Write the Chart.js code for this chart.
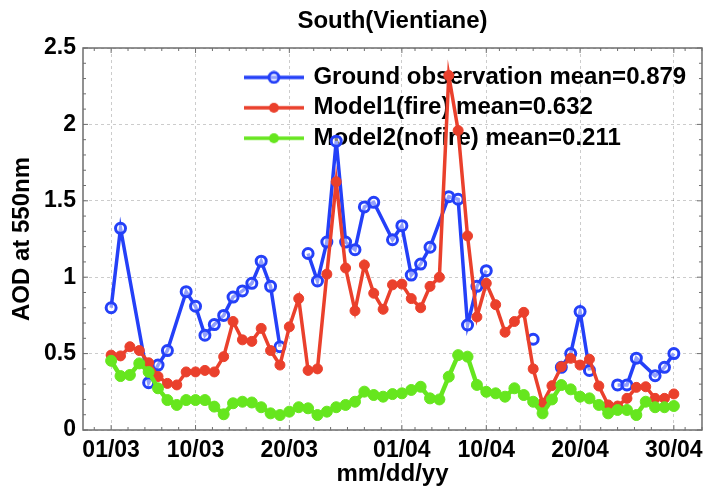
<!DOCTYPE html>
<html><head><meta charset="utf-8">
<script src="https://cdn.jsdelivr.net/npm/chart.js@4.4.0/dist/chart.umd.min.js"></script>
<style>html,body{margin:0;padding:0;background:#fff;} canvas{display:block;}</style>
</head><body>
<canvas id="c" width="710" height="490"></canvas>
<script>
// ---- data ----
const days = [0,1,2,3,4,5,6,7,8,9,10,11,12,13,14,15,16,17,18,19,20,21,22,23,24,25,26,27,28,29,30,
  31,32,33,34,35,36,37,38,39,40,41,42,43,44,45,46,47,48,49,50,51,52,53,54,55,56,57,58,59,60];
const model1Values = [0.49,0.485,0.545,0.52,0.44,0.35,0.305,0.295,0.38,0.38,
  0.39,0.38,0.48,0.71,0.59,0.58,0.665,0.52,0.425,0.675,
  0.86,0.39,0.40,1.02,1.625,1.06,0.78,1.08,0.895,0.79,
  0.95,0.955,0.86,0.80,0.94,1.00,2.32,1.96,1.27,0.74,
  0.96,0.82,0.64,0.71,0.77,0.40,0.175,0.29,0.414,0.469,
  0.425,0.463,0.288,0.164,0.157,0.207,0.279,0.283,0.207,0.207,0.236];
const model2Values = [0.453,0.353,0.36,0.436,0.38,0.273,0.196,0.164,0.196,0.196,
  0.196,0.153,0.103,0.175,0.185,0.18,0.149,0.109,0.098,0.12,
  0.149,0.142,0.098,0.12,0.149,0.164,0.185,0.251,0.229,0.218,
  0.235,0.24,0.262,0.283,0.207,0.2,0.349,0.49,0.48,0.295,
  0.25,0.24,0.218,0.273,0.229,0.185,0.109,0.2,0.294,0.266,
  0.218,0.207,0.164,0.109,0.131,0.131,0.098,0.185,0.149,0.149,0.157];
// observed days; a null value breaks the line
const obsDays = [0,1,4,5,6,8,9,10,11,12,13,14,15,16,17,18,19,21,22,23,24,25,26,27,28,30,31,32,33,34,
  36,37,38,39,40,41,45,46,48,49,50,51,52,54,55,56,58,59,60];
const obsValues = [0.80,1.32,0.31,0.425,0.52,0.905,0.81,0.62,0.69,0.75,0.87,0.91,0.96,1.105,0.94,0.545,null,
  1.155,0.975,1.23,1.89,1.23,1.18,1.46,1.49,1.245,1.337,1.014,1.086,1.196,
  1.527,1.51,0.687,0.94,1.043,null,0.594,null,0.41,0.50,0.775,0.39,null,0.295,0.295,0.47,0.355,0.41,0.50];
const xTickDays = [0,9,19,31,40,50,60];
const xTickLabels = ['01/03','10/03','20/03','01/04','10/04','20/04','30/04'];
const yTickValues = [0,0.5,1,1.5,2,2.5];
const yTickLabels = ['0','0.5','1','1.5','2','2.5'];
const seriesNames = ['Ground observation mean=0.879','Model1(fire) mean=0.632','Model2(nofire) mean=0.211'];

// ---- style ----
const FONT = "'Liberation Sans', Arial, Helvetica, sans-serif";
const BLUE = 'rgb(36,64,248)', RED = 'rgb(234,64,44)', GREEN = 'rgb(102,230,30)';
const FRAME = '#6e6e6e';

function legendIcon(color, filled, r) {
  const cv = document.createElement('canvas');
  cv.width = 60; cv.height = 14;
  const g = cv.getContext('2d');
  g.strokeStyle = color; g.lineWidth = 3.5;
  g.beginPath(); g.moveTo(0, 7); g.lineTo(60, 7); g.stroke();
  g.beginPath(); g.arc(30, 7, r, 0, Math.PI * 2);
  if (filled) { g.fillStyle = color; g.fill(); }
  else { g.fillStyle = 'rgba(255,255,255,0.5)'; g.fill(); g.lineWidth = 3; g.stroke(); }
  return cv;
}
const icons = [legendIcon(BLUE, false, 5), legendIcon(RED, true, 5), legendIcon(GREEN, true, 5)];
const colors = [BLUE, RED, GREEN];

const framePlugin = {
  id: 'frame',
  afterDatasetsDraw(chart) {
    const {ctx, chartArea: a, scales: {x, y}} = chart;
    ctx.save();
    ctx.strokeStyle = FRAME;
    ctx.lineWidth = 1;
    const vt = (px, len) => {
      ctx.beginPath(); ctx.moveTo(px, a.bottom); ctx.lineTo(px, a.bottom - len); ctx.stroke();
      ctx.beginPath(); ctx.moveTo(px, a.top); ctx.lineTo(px, a.top + len); ctx.stroke();
    };
    const ht = (py, len) => {
      ctx.beginPath(); ctx.moveTo(a.left, py); ctx.lineTo(a.left + len, py); ctx.stroke();
      ctx.beginPath(); ctx.moveTo(a.right, py); ctx.lineTo(a.right - len, py); ctx.stroke();
    };
    for (let v = -1.8; v < x.max; v += 1.8) {
      if (xTickDays.some(d => Math.abs(d - v) < 0.9)) continue;
      vt(x.getPixelForValue(v), 3);
    }
    xTickDays.forEach(d => vt(x.getPixelForValue(d), 5));
    for (let k = 1; k < 25; k++) {
      if (k % 5 === 0) continue;
      ht(y.getPixelForValue(k / 10), 3);
    }
    yTickValues.forEach(v => ht(y.getPixelForValue(v), 5));
    ctx.lineWidth = 1.5;
    ctx.strokeRect(a.left, a.top, a.right - a.left, a.bottom - a.top);
    ctx.restore();
  }
};

const legendPos = {
  id: 'legendPos',
  afterLayout(chart) {
    const a = chart.chartArea;
    chart.legend.left = a.left + 157;
    chart.legend.top = a.top + 11;
  }
};

new Chart(document.getElementById('c'), {
  type: 'line',
  data: {
    datasets: [
      {
        label: seriesNames[0],
        data: obsDays.map((d, i) => ({x: d, y: obsValues[i]})),
        borderColor: BLUE, borderWidth: 3.5,
        pointRadius: 5, pointBorderWidth: 3,
        pointBorderColor: BLUE, pointBackgroundColor: 'rgba(255,255,255,0.5)',
        spanGaps: false, order: 3
      },
      {
        label: seriesNames[1],
        data: days.map((d, i) => ({x: d, y: model1Values[i]})),
        borderColor: RED, borderWidth: 3.5,
        pointRadius: 5, pointBorderWidth: 1,
        pointBorderColor: RED, pointBackgroundColor: RED, order: 2
      },
      {
        label: seriesNames[2],
        data: days.map((d, i) => ({x: d, y: model2Values[i]})),
        borderColor: GREEN, borderWidth: 4.5,
        pointRadius: 5.5, pointBorderWidth: 1,
        pointBorderColor: GREEN, pointBackgroundColor: GREEN, order: 1
      }
    ]
  },
  options: {
    responsive: false,
    animation: false,
    devicePixelRatio: 1,
    layout: {padding: {left: 0, right: 5, top: 0, bottom: 0}},
    elements: {line: {tension: 0}},
    scales: {
      x: {
        type: 'linear', min: -3, max: 63,
        afterBuildTicks(s) { s.ticks = xTickDays.map(v => ({value: v})); },
        ticks: {
          callback: (v, i) => xTickLabels[i],
          font: {family: FONT, size: 23, weight: 'bold'}, color: '#000',
          padding: 7, maxRotation: 0, autoSkip: false
        },
        grid: {color: 'rgba(0,0,0,0.2)', lineWidth: 1, drawTicks: false},
        border: {display: false, dash: [3, 3]},
        title: {display: true, text: 'mm/dd/yy', color: '#000',
          font: {family: FONT, size: 24, weight: 'bold'}, padding: {top: 0, bottom: 1}},
        afterFit(s) { s.height = 60; }
      },
      y: {
        type: 'linear', min: 0, max: 2.5,
        afterBuildTicks(s) { s.ticks = yTickValues.map(v => ({value: v})); },
        ticks: {
          callback: (v, i) => yTickLabels[i],
          font: {family: FONT, size: 23, weight: 'bold'}, color: '#000', padding: 7
        },
        grid: {color: 'rgba(0,0,0,0.2)', lineWidth: 1, drawTicks: false},
        border: {display: false, dash: [3, 3]},
        title: {display: true, text: 'AOD at 550nm', color: '#000',
          font: {family: FONT, size: 24, weight: 'bold'}, padding: {top: 8.4, bottom: 0}},
        afterFit(s) { s.width = 83; }
      }
    },
    plugins: {
      tooltip: {enabled: false},
      title: {
        display: true, text: 'South(Vientiane)', fullSize: false, color: '#000',
        font: {family: FONT, size: 24, weight: 'bold'},
        padding: {top: 6.6, bottom: 12.6}
      },
      legend: {
        position: 'chartArea', align: 'start', fullSize: false,
        labels: {
          usePointStyle: true, pointStyleWidth: 55, padding: 6.4,
          color: '#000', font: {family: FONT, size: 24, weight: 'bold'},
          generateLabels: () => seriesNames.map((t, i) => ({
            text: t, fillStyle: colors[i], strokeStyle: colors[i], lineWidth: 0,
            pointStyle: icons[i], hidden: false, datasetIndex: i, fontColor: '#000'
          }))
        }
      }
    }
  },
  plugins: [framePlugin, legendPos]
});
</script>
</body></html>
